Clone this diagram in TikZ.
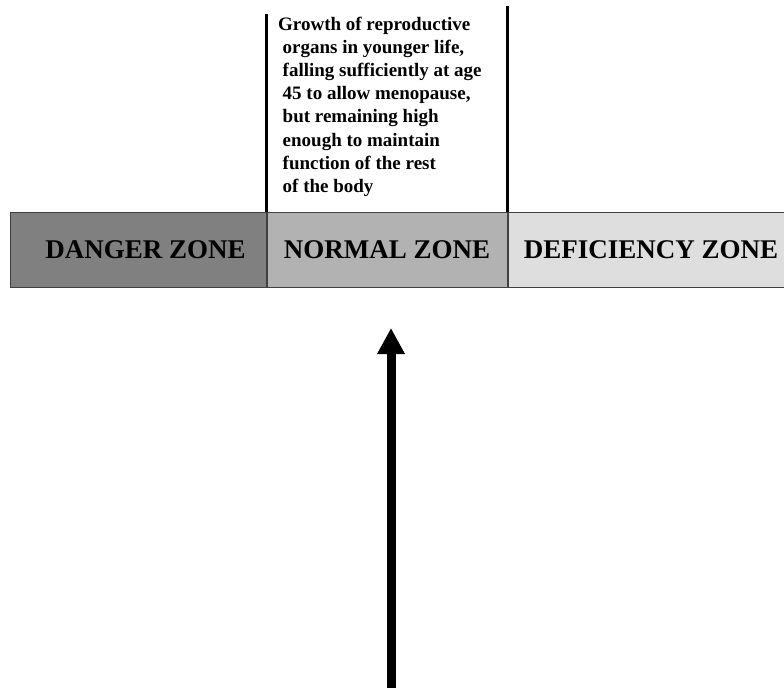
\documentclass[tikz,border=0pt]{standalone}
\usepackage{fontspec}
\setmainfont{Liberation Serif}
\usepackage{tikz}
\usetikzlibrary{arrows.meta, positioning}

\begin{document}
\begin{tikzpicture}[x=1pt, y=-1pt,
        zone/.style={rectangle, draw=black!75, line width=1pt, minimum height=75pt, inner sep=0pt, text centered, font=\fontsize{27}{30}\selectfont\bfseries},
        wall/.style={line width=2.5pt},
        note/.style={align=left, inner sep=0pt, anchor=north west, font=\fontsize{19}{23.1}\selectfont\bfseries}
    ]
        \useasboundingbox (0,0) rectangle (784,688);

        % ================= ZONES =================
        \node[zone, fill=black!50, minimum width=256pt] (danger) at (138, 249.5) {\hspace*{15pt}DANGER ZONE};
        \node[zone, fill=black!30, minimum width=240pt, right=0pt of danger] (normal) {NORMAL ZONE};
        \node[zone, fill=black!13, minimum width=290pt, right=0pt of normal] (deficiency) {DEFICIENCY ZONE\hspace*{4pt}};

        % ================= NORMAL RANGE TEXT =================
        \node[note] (range) at (282.5, 17) {\hspace*{-4.5pt}Growth of reproductive\\
            organs in younger life,\\
            falling sufficiently at age\\
            45 to allow menopause,\\
            but remaining high\\
            enough to maintain\\
            function of the rest\\
            of the body};

        \coordinate (lefttop) at (normal.north west |- 0,14);
        \coordinate (righttop) at (normal.north east |- 0,6);
        \draw[wall] (lefttop) -- (normal.north west);
        \draw[wall] (righttop) -- (normal.north east);

        % pointer into the normal zone
        \coordinate (foot) at (391, 688);
        \coordinate (tip) at (391, 328);
        \draw[line width=9pt, -{Triangle[width=26pt, length=26pt]}] (foot) -- (tip);
    \end{tikzpicture}
\end{document}
